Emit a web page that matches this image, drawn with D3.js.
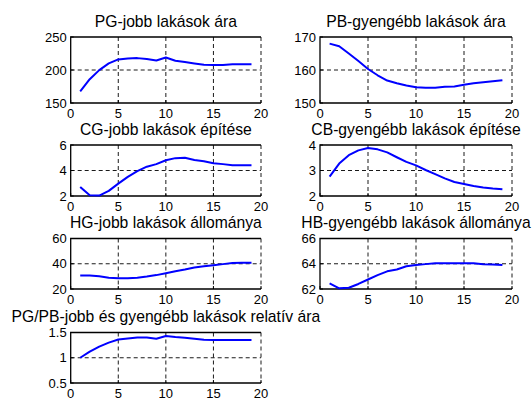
<!DOCTYPE html>
<html>
<head>
<meta charset="utf-8">
<script src="https://cdn.jsdelivr.net/npm/d3@7"></script>
<style>
  body { margin: 0; background: #fff; }
  svg { display: block; font-family: "Liberation Sans", Arial, sans-serif; }
</style>
</head>
<body>
<svg id="chart" width="532" height="398"></svg>
<script>
// Periódusok (x tengely)
const periods = d3.range(1, 20);
const xTicks = [0, 5, 10, 15, 20];

// Sorozatok
const pgPrice = [167.7, 186, 199.8, 210, 216, 217.5, 218, 216.5, 214.5, 219, 214, 212, 210, 208, 207.6, 207.6, 208.6, 208.6, 208.6];
const pbPrice = [168.0, 167.2, 165.0, 162.7, 160.3, 158.4, 156.8, 156.0, 155.3, 154.8, 154.6, 154.6, 154.9, 155.0, 155.5, 156.0, 156.3, 156.6, 156.9];
const cgBuild = [2.7, 2.05, 2.03, 2.4, 2.97, 3.5, 3.95, 4.3, 4.5, 4.8, 4.97, 5.0, 4.82, 4.73, 4.57, 4.5, 4.42, 4.42, 4.42];
const cbBuild = [2.76, 3.27, 3.6, 3.79, 3.88, 3.83, 3.71, 3.52, 3.34, 3.2, 3.02, 2.86, 2.69, 2.55, 2.47, 2.39, 2.33, 2.29, 2.26];
const hgStock = [30.7, 30.7, 30.1, 29.0, 28.5, 28.5, 29.0, 29.9, 31.0, 32.5, 34.1, 35.5, 37.1, 38.1, 38.9, 39.7, 40.5, 40.8, 40.8];
const hbStock = [62.45, 62.05, 62.1, 62.4, 62.75, 63.1, 63.4, 63.55, 63.8, 63.9, 63.97, 64.03, 64.03, 64.03, 64.03, 64.03, 63.97, 63.95, 63.9];
const relPrice = [1.0, 1.12, 1.22, 1.3, 1.36, 1.38, 1.4, 1.4, 1.375, 1.43, 1.41, 1.395, 1.375, 1.355, 1.35, 1.35, 1.35, 1.35, 1.35];

// Címek és y skálák
const titles = [
  "PG-jobb lakások ára", "PB-gyengébb lakások ára",
  "CG-jobb lakások építése", "CB-gyengébb lakások építése",
  "HG-jobb lakások állománya", "HB-gyengébb lakások állománya",
  "PG/PB-jobb és gyengébb lakások relatív ára"
];
const series = [pgPrice, pbPrice, cgBuild, cbBuild, hgStock, hbStock, relPrice];
const yTicks = [
  [150, 200, 250], [150, 160, 170],
  [2, 4, 6], [2, 3, 4],
  [20, 40, 60], [62, 64, 66],
  [0.5, 1, 1.5]
];

// Elrendezés (subplot 4x2)
const cols = [[70.7, 261], [320, 512]];
const rows = [[37, 103], [145, 196], [238.5, 289], [332.5, 383]];

const svg = d3.select("#chart");

series.forEach((vals, i) => {
  const [x0, x1] = cols[i % 2];
  const [y0, y1] = rows[Math.floor(i / 2)];
  const ticks = yTicks[i];

  const x = d3.scaleLinear().domain([0, 20]).range([x0, x1]);
  const y = d3.scaleLinear().domain(d3.extent(ticks)).range([y1, y0]);

  const g = svg.append("g");

  // rács: szaggatott vonalak a belső osztásoknál + jobb oldal
  xTicks.slice(1).forEach((t) => {
    g.append("line")
      .attr("x1", x(t)).attr("x2", x(t)).attr("y1", y0).attr("y2", y1)
      .attr("stroke", "#000").attr("stroke-width", 0.9).attr("stroke-dasharray", "4,3");
  });
  g.append("line")
    .attr("x1", x0).attr("x2", x1).attr("y1", y(ticks[1])).attr("y2", y(ticks[1]))
    .attr("stroke", "#000").attr("stroke-width", 0.9).attr("stroke-dasharray", "4,3");

  // keret: bal, alsó, felső tömör
  g.append("path")
    .attr("d", `M${x1},${y0}H${x0}V${y1}H${x1}`)
    .attr("fill", "none").attr("stroke", "#000").attr("stroke-width", 1.3);

  // befelé mutató osztásjelek
  xTicks.forEach((t) => {
    g.append("line").attr("x1", x(t)).attr("x2", x(t)).attr("y1", y1).attr("y2", y1 - 3)
      .attr("stroke", "#000");
  });
  ticks.forEach((t) => {
    g.append("line").attr("x1", x0).attr("x2", x0 + 3).attr("y1", y(t)).attr("y2", y(t))
      .attr("stroke", "#000");
  });

  // tengelyfeliratok
  g.selectAll(null).data(xTicks).enter().append("text")
    .attr("x", (d) => x(d)).attr("y", y1 + 14.5)
    .attr("text-anchor", "middle").style("font-size", "13px").text((d) => d);
  g.selectAll(null).data(ticks).enter().append("text")
    .attr("x", x0 - 4).attr("y", (d) => y(d) + 4.7)
    .attr("text-anchor", "end").style("font-size", "13px").text((d) => d);

  // cím
  g.append("text")
    .attr("x", (x0 + x1) / 2).attr("y", y0 - 10.5)
    .attr("text-anchor", "middle").style("font-size", "15.7px").text(titles[i]);

  // adatsor
  const line = d3.line().x((d, k) => x(periods[k])).y((d) => y(d));
  g.append("path").datum(vals)
    .attr("fill", "none").attr("stroke", "#0000ff").attr("stroke-width", 2)
    .attr("stroke-linejoin", "round").attr("d", line);
});
</script>
</body>
</html>
